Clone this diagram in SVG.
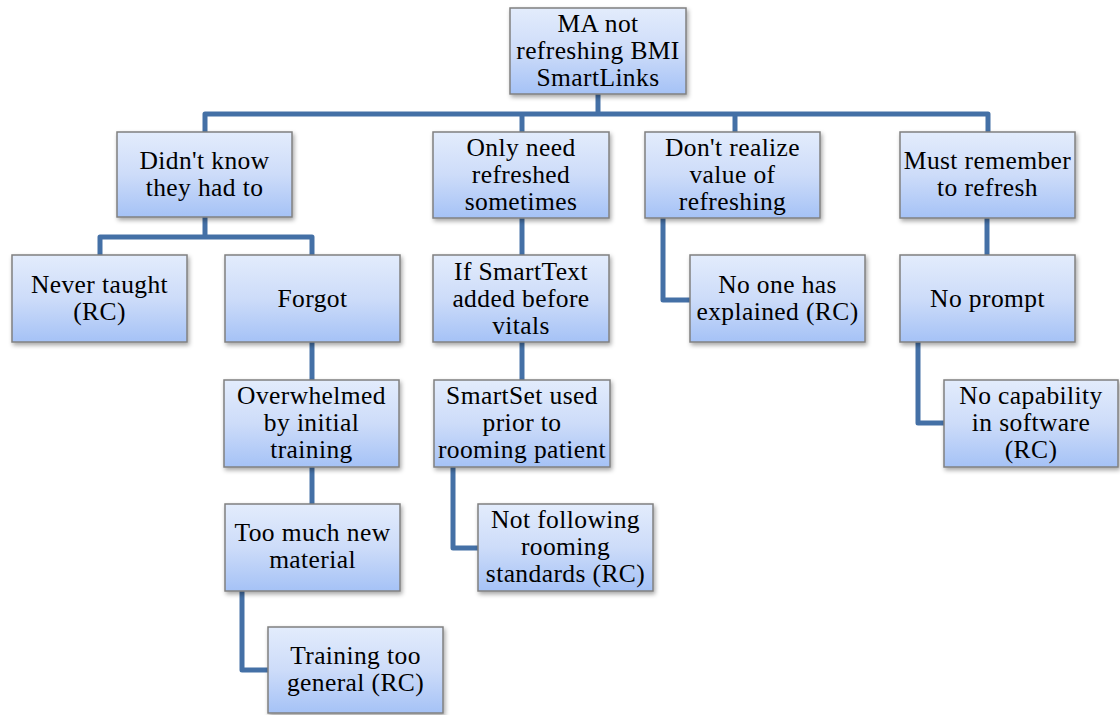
<svg xmlns="http://www.w3.org/2000/svg" width="1120" height="715" viewBox="0 0 1120 715">
  <defs>
    <linearGradient id="boxFill" x1="0" y1="0" x2="0" y2="1">
      <stop offset="0" stop-color="#e3ecfc"/>
      <stop offset="0.5" stop-color="#cddcf9"/>
      <stop offset="1" stop-color="#a5c2f6"/>
    </linearGradient>
    <filter id="shadow" x="-10%" y="-10%" width="125%" height="130%">
      <feDropShadow dx="1.5" dy="2.5" stdDeviation="2" flood-color="#000" flood-opacity="0.35"/>
    </filter>
    <style>
      .box { fill: url(#boxFill); stroke: #808080; stroke-width: 1.5; filter: url(#shadow); }
      .lbl { font-family: 'Liberation Serif', 'Times New Roman', 'DejaVu Serif', serif; font-size: 25.5px; letter-spacing: 0.4px; fill: #000; text-anchor: middle; }
      .link { fill: none; stroke: #4470a6; stroke-width: 5; stroke-linejoin: round; }
    </style>
  </defs>

  <rect width="1120" height="715" fill="#ffffff"/>

  <!-- connectors -->
  <g id="connectors">
    <path class="link" d="M598,94 V114"/>
    <path class="link" d="M205,132 V114 H988 V132"/>
    <path class="link" d="M522,114 V132"/>
    <path class="link" d="M735,114 V132"/>
    <path class="link" d="M205,217 V237"/>
    <path class="link" d="M100,255 V237 H312 V255"/>
    <path class="link" d="M522,218 V255"/>
    <path class="link" d="M663,218 V300 H690"/>
    <path class="link" d="M987,218 V255"/>
    <path class="link" d="M312,342 V380"/>
    <path class="link" d="M522,342 V380"/>
    <path class="link" d="M918,342 V423 H944"/>
    <path class="link" d="M312,467 V504"/>
    <path class="link" d="M453,467 V548 H478"/>
    <path class="link" d="M242,591 V670 H268"/>
  </g>

  <!-- root -->
  <g id="root">
    <rect class="box" x="510" y="8" width="176" height="86"/>
    <text class="lbl" x="598" y="32">MA not</text>
    <text class="lbl" x="598" y="59">refreshing BMI</text>
    <text class="lbl" x="598" y="86">SmartLinks</text>
  </g>

  <!-- first level causes -->
  <g id="didnt-know">
    <rect class="box" x="117" y="132" width="175" height="85"/>
    <text class="lbl" x="204.5" y="169">Didn't know</text>
    <text class="lbl" x="204.5" y="196">they had to</text>
  </g>
  <g id="only-need">
    <rect class="box" x="433" y="132" width="176" height="86"/>
    <text class="lbl" x="521" y="156">Only need</text>
    <text class="lbl" x="521" y="183">refreshed</text>
    <text class="lbl" x="521" y="210">sometimes</text>
  </g>
  <g id="dont-realize">
    <rect class="box" x="645" y="132" width="175" height="86"/>
    <text class="lbl" x="732.5" y="156">Don't realize</text>
    <text class="lbl" x="732.5" y="183">value of</text>
    <text class="lbl" x="732.5" y="210">refreshing</text>
  </g>
  <g id="must-remember">
    <rect class="box" x="900" y="132" width="175" height="86"/>
    <text class="lbl" x="987.5" y="169">Must remember</text>
    <text class="lbl" x="987.5" y="196">to refresh</text>
  </g>

  <!-- second level -->
  <g id="never-taught">
    <rect class="box" x="12" y="255" width="175" height="87"/>
    <text class="lbl" x="99.5" y="293">Never taught</text>
    <text class="lbl" x="99.5" y="320">(RC)</text>
  </g>
  <g id="forgot">
    <rect class="box" x="225" y="255" width="175" height="87"/>
    <text class="lbl" x="312.5" y="307">Forgot</text>
  </g>
  <g id="if-smarttext">
    <rect class="box" x="433" y="255" width="176" height="87"/>
    <text class="lbl" x="521" y="280">If SmartText</text>
    <text class="lbl" x="521" y="307">added before</text>
    <text class="lbl" x="521" y="334">vitals</text>
  </g>
  <g id="no-one-explained">
    <rect class="box" x="690" y="255" width="175" height="87"/>
    <text class="lbl" x="777.5" y="293">No one has</text>
    <text class="lbl" x="777.5" y="320">explained (RC)</text>
  </g>
  <g id="no-prompt">
    <rect class="box" x="900" y="255" width="175" height="87"/>
    <text class="lbl" x="987.5" y="307">No prompt</text>
  </g>

  <!-- third level -->
  <g id="overwhelmed">
    <rect class="box" x="224" y="380" width="175" height="87"/>
    <text class="lbl" x="311.5" y="404">Overwhelmed</text>
    <text class="lbl" x="311.5" y="431">by initial</text>
    <text class="lbl" x="311.5" y="458">training</text>
  </g>
  <g id="smartset">
    <rect class="box" x="434" y="380" width="176" height="87"/>
    <text class="lbl" x="522" y="404">SmartSet used</text>
    <text class="lbl" x="522" y="431">prior to</text>
    <text class="lbl" x="522" y="458">rooming patient</text>
  </g>
  <g id="no-capability">
    <rect class="box" x="944" y="380" width="174" height="87"/>
    <text class="lbl" x="1031" y="404">No capability</text>
    <text class="lbl" x="1031" y="431">in software</text>
    <text class="lbl" x="1031" y="458">(RC)</text>
  </g>

  <!-- fourth level -->
  <g id="too-much">
    <rect class="box" x="225" y="504" width="175" height="87"/>
    <text class="lbl" x="312.5" y="541">Too much new</text>
    <text class="lbl" x="312.5" y="568">material</text>
  </g>
  <g id="not-following">
    <rect class="box" x="478" y="504" width="175" height="87"/>
    <text class="lbl" x="565.5" y="528">Not following</text>
    <text class="lbl" x="565.5" y="555">rooming</text>
    <text class="lbl" x="565.5" y="582">standards (RC)</text>
  </g>

  <!-- fifth level -->
  <g id="training-general">
    <rect class="box" x="268" y="627" width="175" height="86"/>
    <text class="lbl" x="355.5" y="664">Training too</text>
    <text class="lbl" x="355.5" y="691">general (RC)</text>
  </g>
</svg>
